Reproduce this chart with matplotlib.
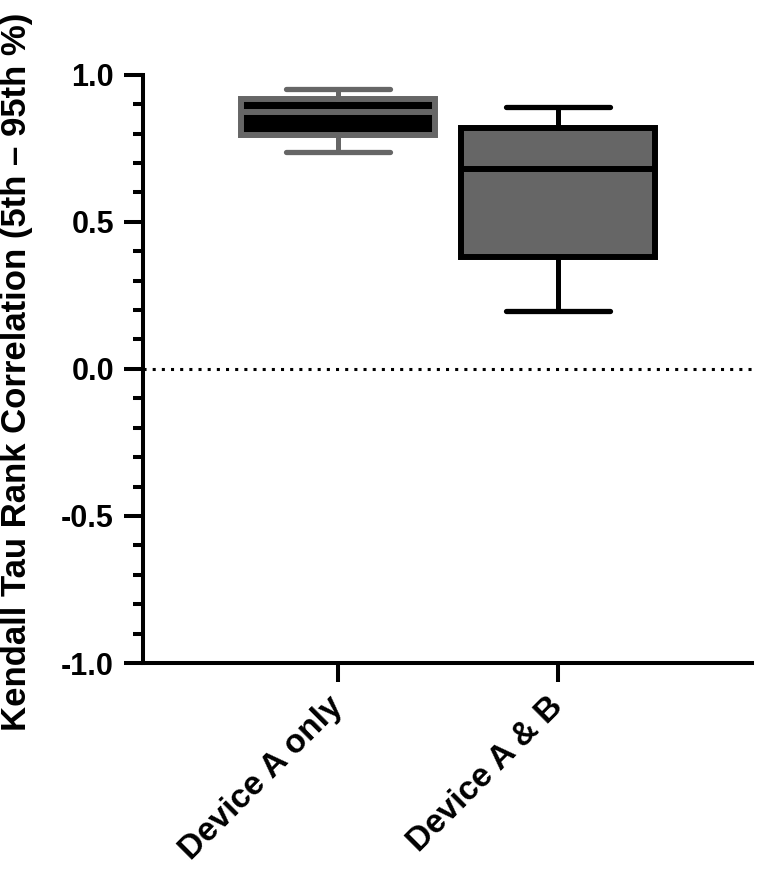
import matplotlib
matplotlib.use("Agg")
import matplotlib.pyplot as plt
from matplotlib.ticker import MultipleLocator

categories = ["Device A only", "Device A & B"]
p5 = [0.739, 0.198]
q1 = [0.796, 0.382]
med = [0.872, 0.680]
q3 = [0.918, 0.820]
p95 = [0.952, 0.892]
face_colors = ["#000000", "#666666"]
edge_colors = ["#666666", "#000000"]
y_ticks = [-1.0, -0.5, 0.0, 0.5, 1.0]
y_label = "Kendall Tau Rank Correlation (5th – 95th %)"

plt.rcParams['font.family'] = ['Liberation Sans', 'DejaVu Sans']
plt.rcParams['font.weight'] = 'bold'

fig = plt.figure(figsize=(7.57, 8.69), dpi=100)
ax = fig.add_axes([0.189, 0.237, 0.804, 0.677])

positions = [1, 2]
for i in range(len(categories)):
    stats = [dict(med=med[i], q1=q1[i], q3=q3[i], whislo=p5[i], whishi=p95[i], fliers=[])]
    ec = edge_colors[i]
    ax.bxp(stats, positions=[positions[i]], widths=0.88, capwidths=0.47,
           patch_artist=True, showfliers=False,
           boxprops=dict(facecolor=face_colors[i], edgecolor=ec, linewidth=4.3),
           medianprops=dict(color=ec, linewidth=4.3),
           whiskerprops=dict(color=ec, linewidth=3.6),
           capprops=dict(color=ec, linewidth=3.8, solid_capstyle='round'))

ax.axhline(0, color='black', linewidth=2.2, linestyle=(0, (1, 2)), zorder=0)

ax.set_xlim(0.114, 2.88)
ax.set_ylim(-1.0, 1.0)
ax.set_yticks(y_ticks)
ax.set_yticklabels([f"{v:.1f}" for v in y_ticks])
ax.yaxis.set_minor_locator(MultipleLocator(0.1))
ax.set_xticks(positions)
ax.set_xticklabels(categories, rotation=45, ha='right', va='center', rotation_mode='anchor')

for s in ['top', 'right']:
    ax.spines[s].set_visible(False)
for s in ['left', 'bottom']:
    ax.spines[s].set_linewidth(2.9)

ax.tick_params(axis='y', which='major', length=14, width=2.9, labelsize=22, pad=7)
ax.tick_params(axis='y', which='minor', length=7, width=2.9)
ax.tick_params(axis='x', which='major', length=14, width=2.9, labelsize=24, pad=14)

ax.set_ylabel(y_label, fontsize=25, fontweight='bold')
ax.yaxis.set_label_coords(-0.181, 0.495)

fig.savefig("out.png", dpi=100)
